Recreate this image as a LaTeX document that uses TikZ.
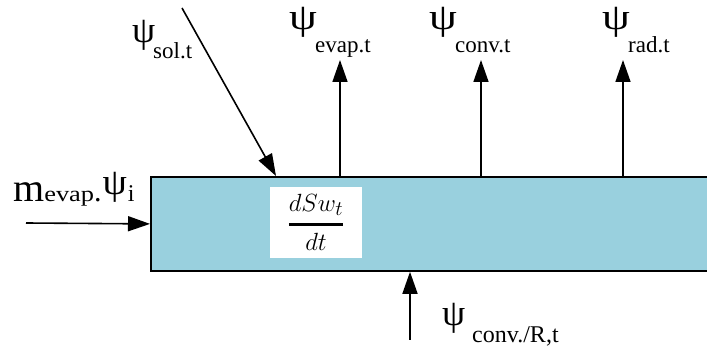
\documentclass[tikz,border=0pt]{standalone}
\usepackage{fontspec}
\setmainfont{Liberation Serif}
\usepackage{amsmath}
\usetikzlibrary{arrows.meta}
\definecolor{tankblue}{RGB}{153,208,222}
\newcommand{\psiglyph}[1]{{\fontsize{37}{40}\selectfont\raisebox{\depth}{\scalebox{#1}[1]{ψ}}}}
\newcommand{\subtext}[1]{{\fontsize{23}{26}\selectfont #1}}

\begin{document}
\begin{tikzpicture}[x=1pt,y=-1pt,
  flow/.style={line width=1.6pt,-{Triangle[length=22pt,width=15pt]}},
  lbl/.style={anchor=base west,inner sep=0pt}]
\useasboundingbox (0,0) rectangle (707,347);
\clip (0,0) rectangle (707,347);
\node[draw,line width=1.8pt,fill=tankblue,anchor=north west,minimum width=570pt,minimum height=94pt,inner sep=0pt] (tank) at (150,176) {};
\node[fill=white,minimum width=92pt,minimum height=71pt,inner sep=0pt] (rate) at (316,222.5) {\raisebox{5pt}{\fontsize{30}{32}\selectfont $\displaystyle{dSw_t\above 2.5pt dt}$}};
\coordinate (solsrc) at (182,8);
\coordinate (solhit) at (276,176);
\draw[flow] (solsrc) -- (solhit);
\foreach \x/\n in {340/evap,481/conv,623/rad}{
  \coordinate (\n) at (\x,60);
  \draw[flow] (tank.north -| \n) -- (\n);
}
\coordinate (inlet) at (26,223);
\draw[flow] (inlet) -- (tank.west);
\coordinate (floor) at (410,340);
\draw[flow] (floor) -- (tank.south -| floor);
\foreach \x/\n in {289/evap,429/conv,602/rad}{
  \node[lbl] (psi\n) at (\x,37) {\psiglyph{1.2}};
  \node[lbl] (sub\n) at (\x+26,53) {\subtext{\n.t}};
}
\node[lbl] (psisol) at (132,50) {\psiglyph{1}};
\node[lbl] (subsol) at (153,59) {\subtext{sol.t}};
\node[lbl] (lin) at (13,202) {\fontsize{40}{42}\selectfont m\fontsize{22}{24}\selectfont\scalebox{1.2}[1]{evap}\fontsize{30}{32}\selectfont.\kern1pt\psiglyph{1.05}\kern1pt\fontsize{24}{26}\selectfont i};
\node[lbl] (psifloor) at (442,333) {\psiglyph{1}};
\node[lbl] (subfloor) at (472,343) {\fontsize{24}{26}\selectfont conv./R,t};
\end{tikzpicture}
\end{document}
